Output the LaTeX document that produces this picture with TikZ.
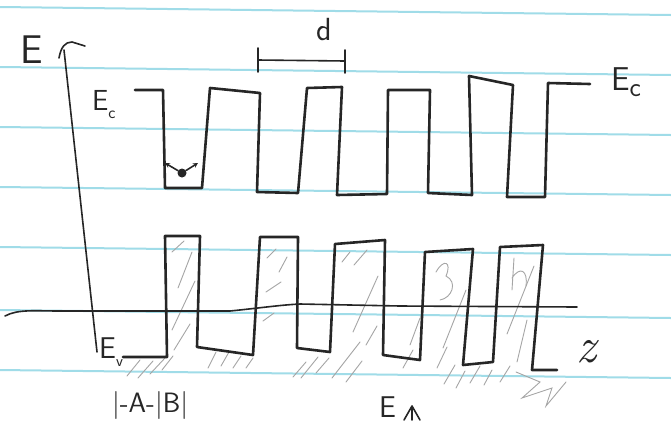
\documentclass[tikz,border=0pt]{standalone}
\usetikzlibrary{arrows.meta}
\definecolor{ink}{RGB}{38,38,38}
\definecolor{pencil}{RGB}{165,165,165}
\definecolor{rulecol}{RGB}{160,220,232}
\begin{document}
\begin{tikzpicture}[x=1pt,y=-1pt,
  rule/.style={draw=rulecol, line width=2pt},
  band/.style={draw=ink, line width=2.6pt, line join=round, line cap=round},
  thin/.style={draw=ink, line width=1.6pt, line cap=round, line join=round},
  hatch/.style={draw=pencil, line width=0.9pt, line cap=round},
  lbl/.style={text=ink, inner sep=0pt, anchor=base west, font=\sffamily}]
\useasboundingbox[fill=white] (0,0) rectangle (671,424);
% ruled paper
\foreach \yy in {7,67,127,187,247,310,370} \draw[rule] (0,\yy) -- (671,\yy+8);

% hatching (pencil)
\foreach \a/\b/\c/\d in {
  172/252/184/241, 178/288/192/252, 172/330/195/281, 174/350/190/324,
  127/376/140/360, 138/378/153/361, 150/374/165/358, 162/370/173/356,
  208/368/216/352, 221/366/229/352, 233/368/241/356, 246/368/253/358,
  267/258/276/249, 279/272/287/257, 266/292/281/282, 263/321/274/313,
  293/377/306/362, 301/378/318/357, 316/373/329/358,
  342/262/350/252, 354/265/367/250, 353/332/378/276, 366/345/377/326,
  332/378/360/342, 346/382/362/361,
  443/348/466/290, 437/368/447/347, 444/384/455/365, 456/388/465/371,
  470/383/480/366, 484/385/492/370, 410/345/420/318, 403/368/413/350,
  507/334/534/266, 517/362/527/320, 500/382/510/366}
  \draw[hatch] (\a,\b) -- (\c,\d);
\draw[hatch] (436,272) .. controls (444,258) and (452,262) .. (446,276) .. controls (458,282) and (452,298) .. (440,300);
\draw[hatch] (512,290) -- (514,258) (512,278) .. controls (520,266) and (528,270) .. (526,286);
\draw[hatch] (516,372) -- (540,382) -- (522,398) -- (552,388) -- (546,406) -- (566,382);

% axes
\coordinate (Etop) at (64,50);
\coordinate (Ebot) at (97,352);
\draw[thin] (Ebot) -- (Etop);
\draw[thin] (59,58) .. controls (61,47) and (65,42) .. (72,42) -- (85,46);
\draw[thin] (5,316) .. controls (18,309) and (35,311) .. (60,311) -- (230,311)
  .. controls (260,308) and (280,305) .. (300,304) -- (400,306) -- (577,307);

% conduction band
\draw[band] (135,90) -- (163,90) -- (165,188) -- (202,188) -- (210,88) -- (260,93)
  -- (257,192) -- (298,193) -- (307,88) -- (342,87) -- (337,195) -- (387,194)
  -- (388,90) -- (430,90) -- (428,193) -- (472,195) -- (469,76) -- (513,85)
  -- (507,197) -- (545,197) -- (548,83) -- (590,84);

% valence band
\draw[band] (123,357) -- (167,357) -- (165,236) -- (200,236) -- (197,347) -- (253,355)
  -- (260,237) -- (298,237) -- (297,348) -- (330,352) -- (335,244) -- (385,240)
  -- (383,355) -- (420,360) -- (425,252) -- (473,249) -- (463,365) -- (493,362)
  -- (500,247) -- (543,245) -- (532,370) -- (557,370);

% period d
\coordinate (dL) at (258,60);
\coordinate (dR) at (345,61);
\draw[thin] (258,48) -- (258,72) (345,50) -- (345,73);
\draw[thin] (dL) -- (dR);
\node[lbl, font=\sffamily\fontsize{32}{32}\selectfont] (d) at (316,40) {d};

% electron in first well
\node[circle, fill=ink, minimum size=9pt, inner sep=0pt] (el) at (182,173) {};
\draw[thin, -{Stealth[length=5pt,width=5pt]}] (el) -- (165,163);
\draw[thin, -{Stealth[length=5pt,width=5pt]}] (el) -- (198,163);

% labels
\node[lbl, font=\sffamily\fontsize{40}{40}\selectfont] (E) at (20,63) {E};
\node[lbl, font=\sffamily\fontsize{29}{29}\selectfont] (EcL) at (92,110) {E\raisebox{-8pt}{\fontsize{17}{17}\selectfont c}};
\node[lbl, font=\sffamily\fontsize{33}{33}\selectfont] (EcR) at (611,90) {E\raisebox{-6pt}{\fontsize{27}{27}\selectfont c}};
\node[lbl, font=\sffamily\fontsize{30}{30}\selectfont] (Ev) at (99,358) {E\raisebox{-8pt}{\fontsize{16}{16}\selectfont v}};
\node[lbl, font=\sffamily\fontsize{28}{28}\selectfont] (AB) at (112,412) {|-A-|B|};
\node[lbl, font=\sffamily\fontsize{30}{30}\selectfont] (Eb) at (379,417) {E};
\draw[thin] (412,420) -- (412,406) (404,420) -- (412,406) -- (420,420);
\node[text=ink, inner sep=0pt, font=\rmfamily\itshape\fontsize{50}{50}\selectfont] (z) at (586,352) {z};
\end{tikzpicture}
\end{document}
